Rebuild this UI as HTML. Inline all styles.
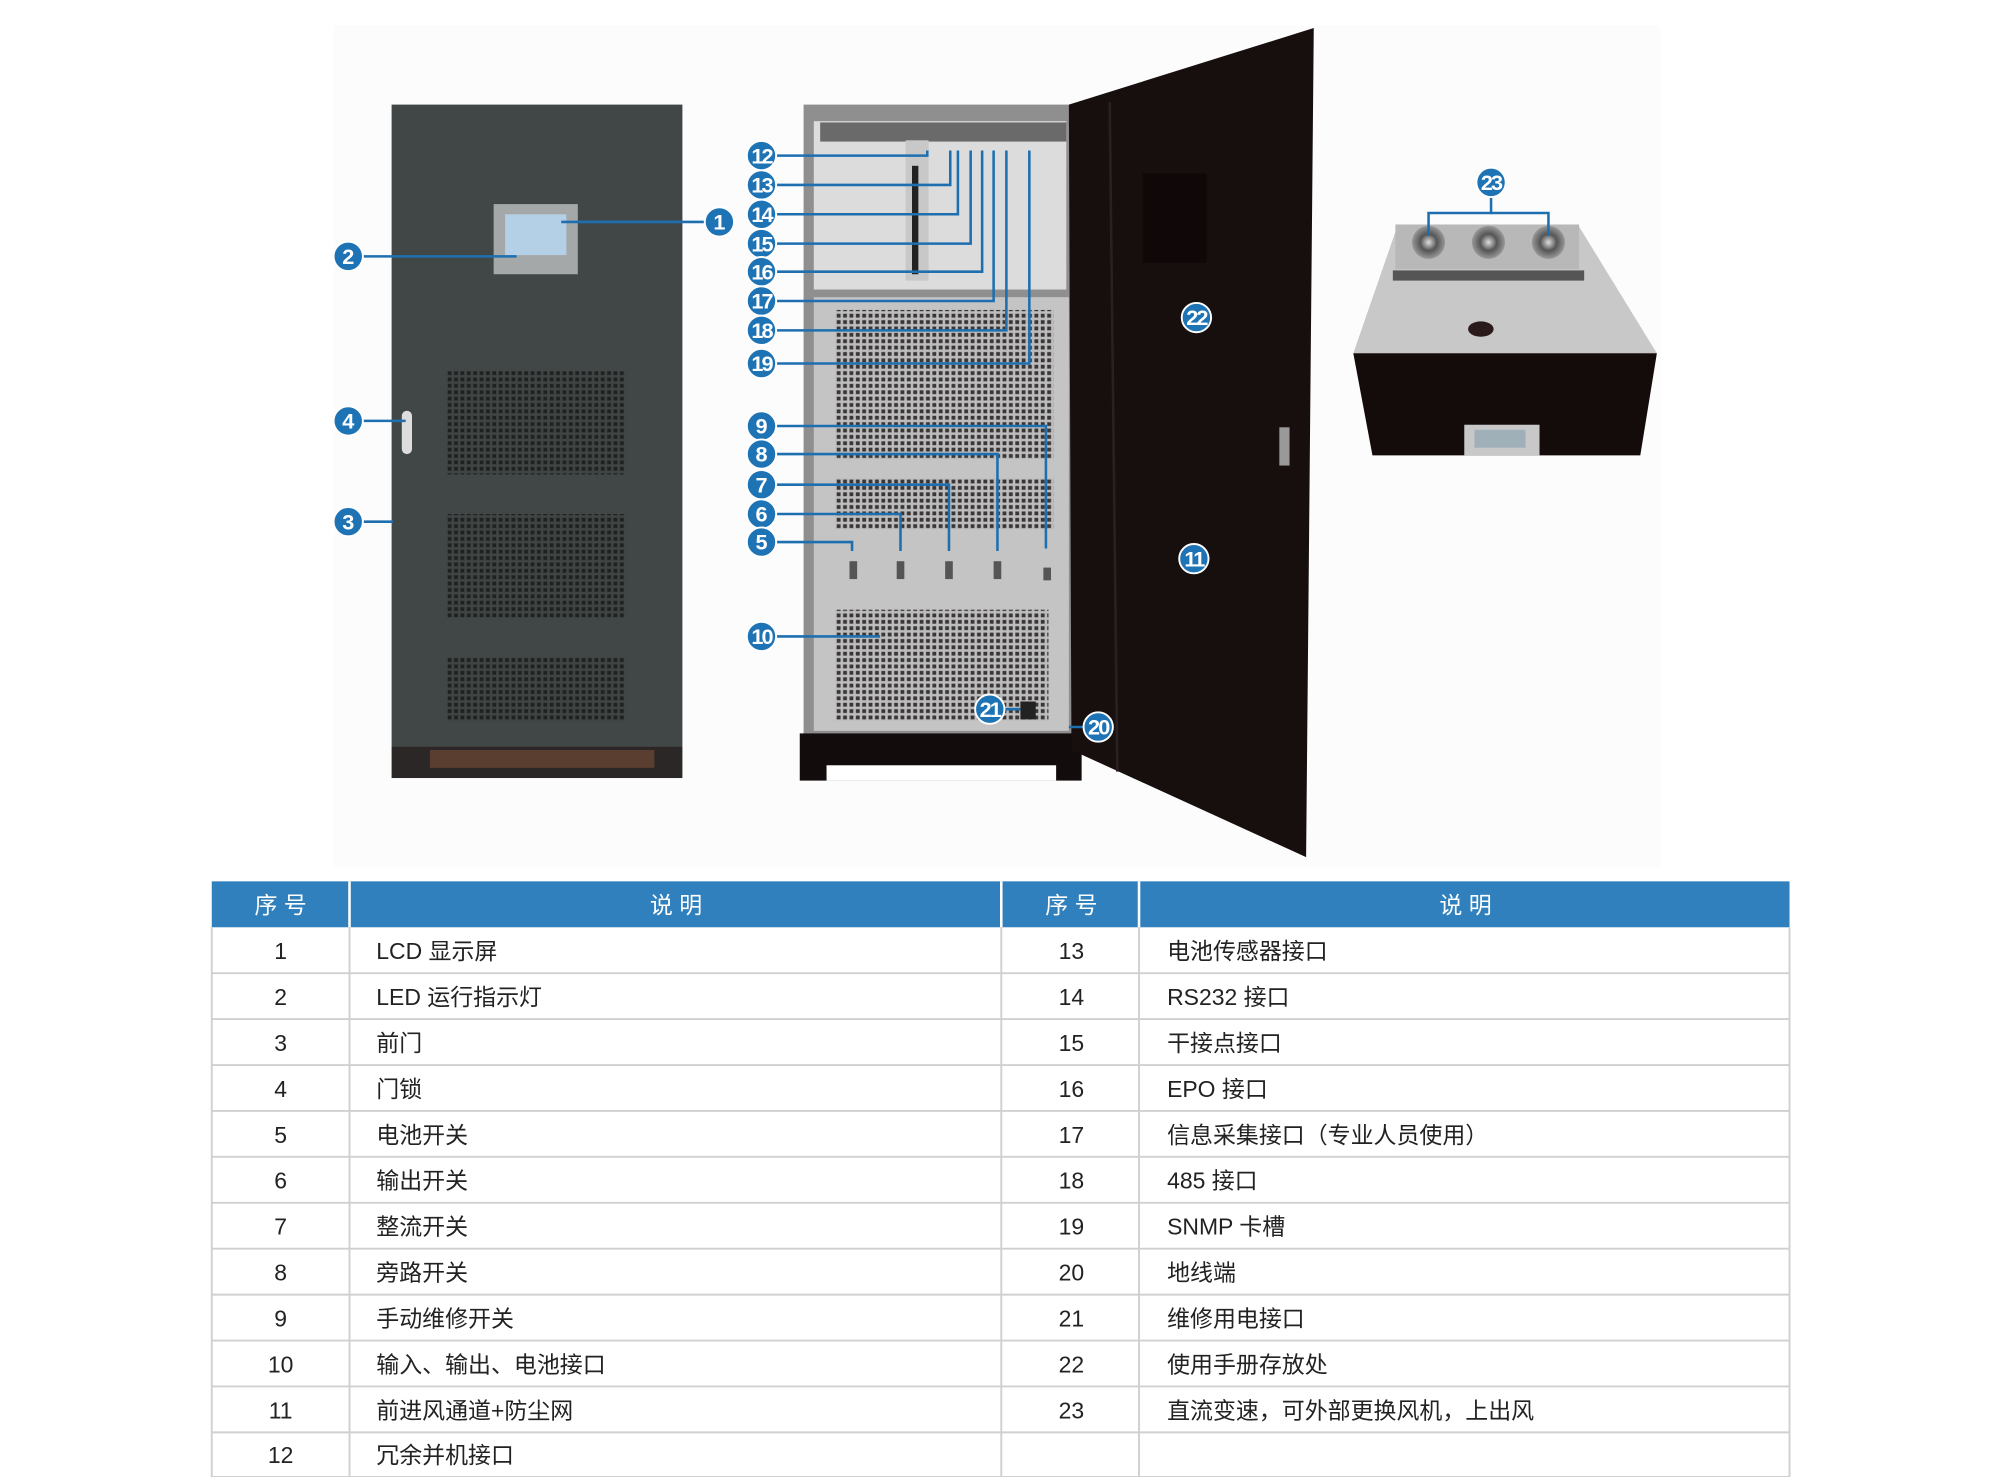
<!DOCTYPE html>
<html><head><meta charset="utf-8"><style>
html,body{margin:0;padding:0;background:#fff;width:2000px;height:1477px;overflow:hidden}
svg{display:block}
text{font-family:"Liberation Sans","Noto Sans CJK SC",sans-serif}
</style></head><body>
<svg width="2000" height="1477" viewBox="0 0 1568 1158" xmlns="http://www.w3.org/2000/svg">
<defs>
<pattern id="gd" width="5" height="5" patternUnits="userSpaceOnUse"><rect width="5" height="5" fill="#404544"/><rect x="1" y="1" width="3" height="3" fill="#1e2221"/></pattern>
<pattern id="gl" width="5" height="5" patternUnits="userSpaceOnUse"><rect width="5" height="5" fill="#bdbdbd"/><rect x="1" y="1" width="3" height="3" fill="#3a3636"/></pattern>
<radialGradient id="fan"><stop offset="0" stop-color="#ddd"/><stop offset="0.5" stop-color="#555"/><stop offset="1" stop-color="#999"/></radialGradient>
</defs>
<rect x="262" y="20" width="1040" height="660" fill="#fcfcfc"/>
<!-- left cabinet -->
<rect x="307" y="82" width="228" height="503" fill="#414746"/>
<rect x="307" y="585" width="228" height="25" fill="#2a2726"/>
<rect x="337" y="588" width="176" height="14" fill="#5a3f30"/>
<rect x="387" y="160" width="66" height="55" fill="#a4a8a8"/>
<rect x="396" y="168" width="48" height="32" fill="#b4d0e6"/>
<rect x="350" y="291" width="141" height="81" fill="url(#gd)"/>
<rect x="350" y="403" width="141" height="81" fill="url(#gd)"/>
<rect x="350" y="515" width="141" height="51" fill="url(#gd)"/>
<rect x="315" y="322" width="8" height="34" rx="4" fill="#ddd"/>
<!-- middle cabinet -->
<rect x="630" y="82" width="210" height="495" fill="#8f8f8f"/>
<rect x="638" y="95" width="198" height="132" fill="#dcdcdc"/>
<rect x="643" y="96" width="193" height="15" fill="#6a6a6a"/>
<rect x="710" y="110" width="18" height="110" fill="#c8c8c8"/>
<rect x="715" y="130" width="5" height="85" fill="#222"/>
<rect x="638" y="233" width="200" height="340" fill="#c4c4c4"/>
<rect x="655" y="243" width="171" height="117" fill="url(#gl)"/>
<rect x="655" y="375" width="171" height="40" fill="url(#gl)"/>
<g fill="#555"><rect x="666" y="440" width="6" height="14"/><rect x="703" y="440" width="6" height="14"/><rect x="741" y="440" width="6" height="14"/><rect x="779" y="440" width="6" height="14"/><rect x="818" y="445" width="6" height="10"/></g>
<rect x="655" y="478" width="167" height="87" fill="url(#gl)"/>
<rect x="627" y="575" width="221" height="37" fill="#120c0c"/>
<rect x="648" y="600" width="180" height="12" fill="#fff"/>
<rect x="800" y="550" width="12" height="14" fill="#222"/>
<!-- door -->
<polygon points="838,82 1030,22 1024,672 840,588" fill="#170e0e"/>
<line x1="870" y1="80" x2="876" y2="605" stroke="#2a2020" stroke-width="2"/>
<rect x="896" y="136" width="50" height="70" fill="#100808"/>
<rect x="1003" y="335" width="8" height="30" fill="#999"/>
<!-- top view -->
<polygon points="1096,176 1237,176 1299,277 1061,277" fill="#c8c8c8"/>
<rect x="1094" y="176" width="144" height="35" fill="#b8b8b8"/>
<circle cx="1120" cy="190" r="13" fill="url(#fan)"/><circle cx="1167" cy="190" r="13" fill="url(#fan)"/><circle cx="1214" cy="190" r="13" fill="url(#fan)"/>
<rect x="1092" y="212" width="150" height="8" fill="#555"/>
<ellipse cx="1161" cy="258" rx="10" ry="6" fill="#2a1a1a"/>
<polygon points="1061,277 1299,277 1286,357 1076,357" fill="#140b0b"/>
<rect x="1148" y="333" width="59" height="24" fill="#c8c8c8"/><rect x="1156" y="337" width="40" height="14" fill="#9fb0b8"/>
<!-- callout lines -->
<g stroke="#1e6fb0" stroke-width="2" fill="none">
<polyline points="440,174 554,174"/><polyline points="283,201 405,201"/><polyline points="283,330 318,330"/><polyline points="283,409 308,409"/>
<polyline points="607,122 727,122 727,118"/><polyline points="607,145 745,145 745,118"/><polyline points="607,168 751,168 751,118"/><polyline points="607,191 761,191 761,118"/><polyline points="607,213 770,213 770,118"/><polyline points="607,236 779,236 779,118"/><polyline points="607,259 789,259 789,118"/><polyline points="607,285 807,285 807,118"/>
<polyline points="607,334 820,334 820,430"/><polyline points="607,356 782,356 782,432"/><polyline points="607,380 744,380 744,432"/><polyline points="607,403 706,403 706,432"/><polyline points="607,425 668,425 668,432"/><polyline points="607,499 690,499"/>
<polyline points="786,556 800,556"/><polyline points="851,570 838,570"/>
<polyline points="1169,153 1169,167 1120,167 1120,185"/><polyline points="1169,167 1214,167 1214,185"/>
</g>
<g font-size="17" font-weight="bold" fill="#fff" text-anchor="middle">
<g stroke="#fff" stroke-width="1.5" fill="#1e73b5">
<circle cx="564" cy="174" r="11.5"/><circle cx="273" cy="201" r="11.5"/><circle cx="273" cy="330" r="11.5"/><circle cx="273" cy="409" r="11.5"/>
<circle cx="597" cy="122" r="11.5"/><circle cx="597" cy="145" r="11.5"/><circle cx="597" cy="168" r="11.5"/><circle cx="597" cy="191" r="11.5"/><circle cx="597" cy="213" r="11.5"/><circle cx="597" cy="236" r="11.5"/><circle cx="597" cy="259" r="11.5"/><circle cx="597" cy="285" r="11.5"/>
<circle cx="597" cy="334" r="11.5"/><circle cx="597" cy="356" r="11.5"/><circle cx="597" cy="380" r="11.5"/><circle cx="597" cy="403" r="11.5"/><circle cx="597" cy="425" r="11.5"/><circle cx="597" cy="499" r="11.5"/>
<circle cx="776" cy="556" r="11.5"/><circle cx="861" cy="570" r="11.5"/><circle cx="938" cy="249" r="11.5"/><circle cx="936" cy="438" r="11.5"/><circle cx="1169" cy="143" r="11.5"/>
</g>
<text x="564" y="180">1</text><text x="273" y="207">2</text><text x="273" y="336">4</text><text x="273" y="415">3</text>
<g letter-spacing="-1.5">
<text x="597" y="128">12</text><text x="597" y="151">13</text><text x="597" y="174">14</text><text x="597" y="197">15</text><text x="597" y="219">16</text><text x="597" y="242">17</text><text x="597" y="265">18</text><text x="597" y="291">19</text>
<text x="597" y="505">10</text>
<text x="776" y="562">21</text><text x="861" y="576">20</text><text x="938" y="255">22</text><text x="936" y="444">11</text><text x="1169" y="149">23</text>
</g>
<text x="597" y="340">9</text><text x="597" y="362">8</text><text x="597" y="386">7</text><text x="597" y="409">6</text><text x="597" y="431">5</text>
</g>
<!-- table -->
<rect x="166" y="691" width="1237" height="36" fill="#2f80bd"/>
<g stroke="#fff" stroke-width="2"><line x1="274" y1="691" x2="274" y2="727"/><line x1="785" y1="691" x2="785" y2="727"/><line x1="893" y1="691" x2="893" y2="727"/></g>
<g fill="#fff" font-size="18" text-anchor="middle"><text x="220" y="716">序 号</text><text x="530" y="716">说 明</text><text x="840" y="716">序 号</text><text x="1149" y="716">说 明</text></g>
<g stroke="#d0d0d0" stroke-width="1.5">
<line x1="166" y1="763" x2="1403" y2="763"/><line x1="166" y1="799" x2="1403" y2="799"/><line x1="166" y1="835" x2="1403" y2="835"/><line x1="166" y1="871" x2="1403" y2="871"/><line x1="166" y1="907" x2="1403" y2="907"/><line x1="166" y1="943" x2="1403" y2="943"/><line x1="166" y1="979" x2="1403" y2="979"/><line x1="166" y1="1015" x2="1403" y2="1015"/><line x1="166" y1="1051" x2="1403" y2="1051"/><line x1="166" y1="1087" x2="1403" y2="1087"/><line x1="166" y1="1123" x2="1403" y2="1123"/><line x1="166" y1="1158" x2="1403" y2="1158"/>
<line x1="166" y1="727" x2="166" y2="1158"/><line x1="274" y1="727" x2="274" y2="1158"/><line x1="785" y1="727" x2="785" y2="1158"/><line x1="893" y1="727" x2="893" y2="1158"/><line x1="1403" y1="727" x2="1403" y2="1158"/>
</g>
<g font-size="18" fill="#222">
<g text-anchor="middle">
<text x="220" y="752">1</text><text x="220" y="788">2</text><text x="220" y="824">3</text><text x="220" y="860">4</text><text x="220" y="896">5</text><text x="220" y="932">6</text><text x="220" y="968">7</text><text x="220" y="1004">8</text><text x="220" y="1040">9</text><text x="220" y="1076">10</text><text x="220" y="1112">11</text><text x="220" y="1147">12</text>
<text x="840" y="752">13</text><text x="840" y="788">14</text><text x="840" y="824">15</text><text x="840" y="860">16</text><text x="840" y="896">17</text><text x="840" y="932">18</text><text x="840" y="968">19</text><text x="840" y="1004">20</text><text x="840" y="1040">21</text><text x="840" y="1076">22</text><text x="840" y="1112">23</text>
</g>
<text x="295" y="752">LCD 显示屏</text><text x="295" y="788">LED 运行指示灯</text><text x="295" y="824">前门</text><text x="295" y="860">门锁</text><text x="295" y="896">电池开关</text><text x="295" y="932">输出开关</text><text x="295" y="968">整流开关</text><text x="295" y="1004">旁路开关</text><text x="295" y="1040">手动维修开关</text><text x="295" y="1076">输入、输出、电池接口</text><text x="295" y="1112">前进风通道+防尘网</text><text x="295" y="1147">冗余并机接口</text>
<text x="915" y="752">电池传感器接口</text><text x="915" y="788">RS232 接口</text><text x="915" y="824">干接点接口</text><text x="915" y="860">EPO 接口</text><text x="915" y="896">信息采集接口（专业人员使用）</text><text x="915" y="932">485 接口</text><text x="915" y="968">SNMP 卡槽</text><text x="915" y="1004">地线端</text><text x="915" y="1040">维修用电接口</text><text x="915" y="1076">使用手册存放处</text><text x="915" y="1112">直流变速，可外部更换风机，上出风</text>
</g>
</svg>
</body></html>
